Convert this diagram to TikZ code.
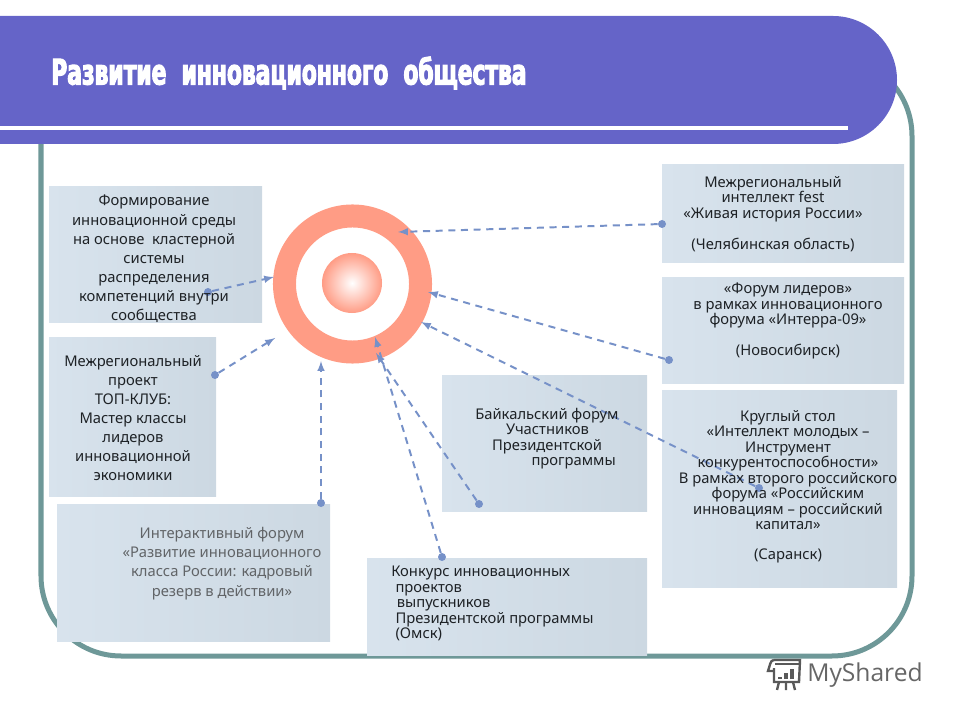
\documentclass[tikz,border=0pt]{standalone}
\usepackage{fontspec}
\usepackage{xcolor}
\setmainfont{Noto Sans}
\newfontfamily\titlefont[FakeStretch=.62,FakeBold=3]{DejaVu Sans}
\newfontfamily\logofont{Open Sans}
\usetikzlibrary{arrows}
\usetikzlibrary{fit}

\definecolor{bannerblue}{RGB}{101,100,200}
\definecolor{framegreen}{RGB}{110,152,152}
\definecolor{ringred}{RGB}{255,156,133}
\definecolor{linkblue}{RGB}{118,145,200}
\definecolor{boxleft}{RGB}{216,227,237}
\definecolor{boxright}{RGB}{204,216,226}
\definecolor{inktext}{RGB}{30,34,38}

\tikzset{
  infobox/.style={inner sep=0pt,left color=boxleft,right color=boxright},
  loose/.style={inner sep=0pt,align=center,text=inktext,font=\fontsize{10.5}{13.6}\selectfont},
  tight/.style={inner sep=0pt,align=center,text=inktext,font=\fontsize{10.5}{11}\selectfont},
  tightleft/.style={tight,align=left},
  linkdot/.style={circle,fill=linkblue,inner sep=0pt,minimum size=.2cm},
  link/.style={color=linkblue,line width=1.4pt,dash pattern=on 5pt off 4pt,-latex},
}

\begin{document}
\begin{tikzpicture}[x=.025cm,y=-.025cm]
  \useasboundingbox (0,0) rectangle (960,720);

  \draw[framegreen,line width=.125cm,rounded corners=2cm] (41,56) rectangle (912,656);
  \fill[bannerblue] (0,16) -- (833,16) arc (-90:90:64) -- (0,144) -- cycle;
  \fill[white] (0,126) rectangle (848,130);
  \node[inner sep=0pt,anchor=west,text=white,font=\titlefont\bfseries\fontsize{25}{27}\selectfont] (title) at (51,73)
    {Развитие\ \ инновационного\ \ общества};

  \node[infobox,fit={(49,187) (262,323)}] (forming) {};
  \node[infobox,fit={(49,338) (216,497)}] (project) {};
  \node[infobox,fit={(57,505) (330,641)}] (interactive) {};
  \node[infobox,fit={(367,558) (647,655)}] (contest) {};
  \node[infobox,fit={(442,376) (647,512)}] (baikal) {};
  \node[infobox,fit={(662,165) (904,263)}] (fest) {};
  \node[infobox,fit={(662,278) (904,384)}] (leaders) {};
  \node[infobox,fit={(662,391) (897,587)}] (roundtable) {};

  \node[circle,draw=ringred,line width=.575cm,inner sep=0pt,minimum size=3.4cm] (ring) at (352.5,284) {};
  \node[circle,inner sep=0pt,minimum size=1.5cm,inner color=white,outer color=ringred] (core) at (352,283) {};

  \node[linkdot] (dotforming) at (208,292) {};
  \node[linkdot] (dotproject) at (215,375) {};
  \node[linkdot] (dotinteractive) at (321,503) {};
  \node[linkdot] (dotcontest) at (442,557) {};
  \node[linkdot] (dotbaikal) at (479,504) {};
  \node[linkdot] (dotroundtable) at (759,488) {};
  \node[linkdot] (dotleaders) at (669,360) {};
  \node[linkdot] (dotfest) at (662,224) {};

  \coordinate (tipforming) at (274,277);
  \coordinate (tipproject) at (275,338);
  \coordinate (tipinteractive) at (321,361);
  \coordinate (tipcontest) at (375,337);
  \coordinate (tipbaikal) at (376,353);
  \coordinate (tiproundtable) at (421,322);
  \coordinate (tipleaders) at (428,292);
  \coordinate (tipfest) at (398,232);

  \path[link] (dotforming) edge (tipforming);
  \path[link] (dotproject) edge (tipproject);
  \path[link] (dotinteractive) edge (tipinteractive);
  \path[link] (dotcontest) edge (tipcontest);
  \path[link] (dotbaikal) edge (tipbaikal);
  \path[link] (dotroundtable) edge (tiproundtable);
  \path[link] (dotleaders) edge (tipleaders);
  \path[link] (dotfest) edge (tipfest);

  \node[loose] (textforming) at (154,259) {Формирование\\инновационной среды\\на основе\ \ кластерной\\системы\\распределения\\компетенций внутри\\сообщества};
  \node[loose] (textproject) at (133,418) {Межрегиональный\\проект\\ТОП-КЛУБ:\\Мастер классы\\лидеров\\инновационной\\экономики};
  \node[loose,text=inktext!70] (textinteractive) at (222,563.5) {Интерактивный форум\\«Развитие инновационного\\класса России: кадровый\\резерв в действии»};
  \node[tightleft,anchor=north west] (textcontest) at (391,566) {Конкурс инновационных\\\hspace*{3pt}проектов\\\hspace*{4pt}выпускников\\\hspace*{3pt}Президентской программы\\\hspace*{3pt}(Омск)};
  \node[tightleft,anchor=north west] (textbaikal) at (475,408) {Байкальский форум\\\hspace*{22pt}Участников\\\hspace*{12pt}Президентской\\\hspace*{40pt}программы};
  \node[tight,anchor=north] (textfest) at (773,176) {Межрегиональный\\интеллект fest\\«Живая история России»\\[11pt](Челябинская область)};
  \node[tight,anchor=north] (textleaders) at (788,283) {«Форум лидеров»\\в рамках инновационного\\форума «Интерра-09»\\[11pt](Новосибирск)};
  \node[tight,anchor=north] (textroundtable) at (788,410) {Круглый стол\\«Интеллект молодых --\\Инструмент\\конкурентоспособности»\\В рамках второго российского\\форума «Российским\\инновациям -- российский\\капитал»\\[10pt](Саранск)};

  % logo
  \begin{scope}[shift={(768,658)},draw=black!65,line width=.06cm]
    \draw (6,2) -- (32,2) -- (31,24) -- (6,24) -- (6,10);
    \draw (6,2) .. controls (2,2) and (2,8) .. (0,13) -- (6,13);
    \draw (7,6) -- (31,6);
    \draw[line width=.1cm] (12,21) -- (12,19) (18,21) -- (18,15) (24,21) -- (24,11);
    \draw (11,24) -- (9,32) (18,24) -- (18,32) (25,24) -- (27,32);
  \end{scope}
  \node[inner sep=0pt,anchor=west,text=black!60,font=\logofont\fontsize{17.5}{20}\selectfont] (logo) at (807,675) {MyShared};
\end{tikzpicture}
\end{document}
